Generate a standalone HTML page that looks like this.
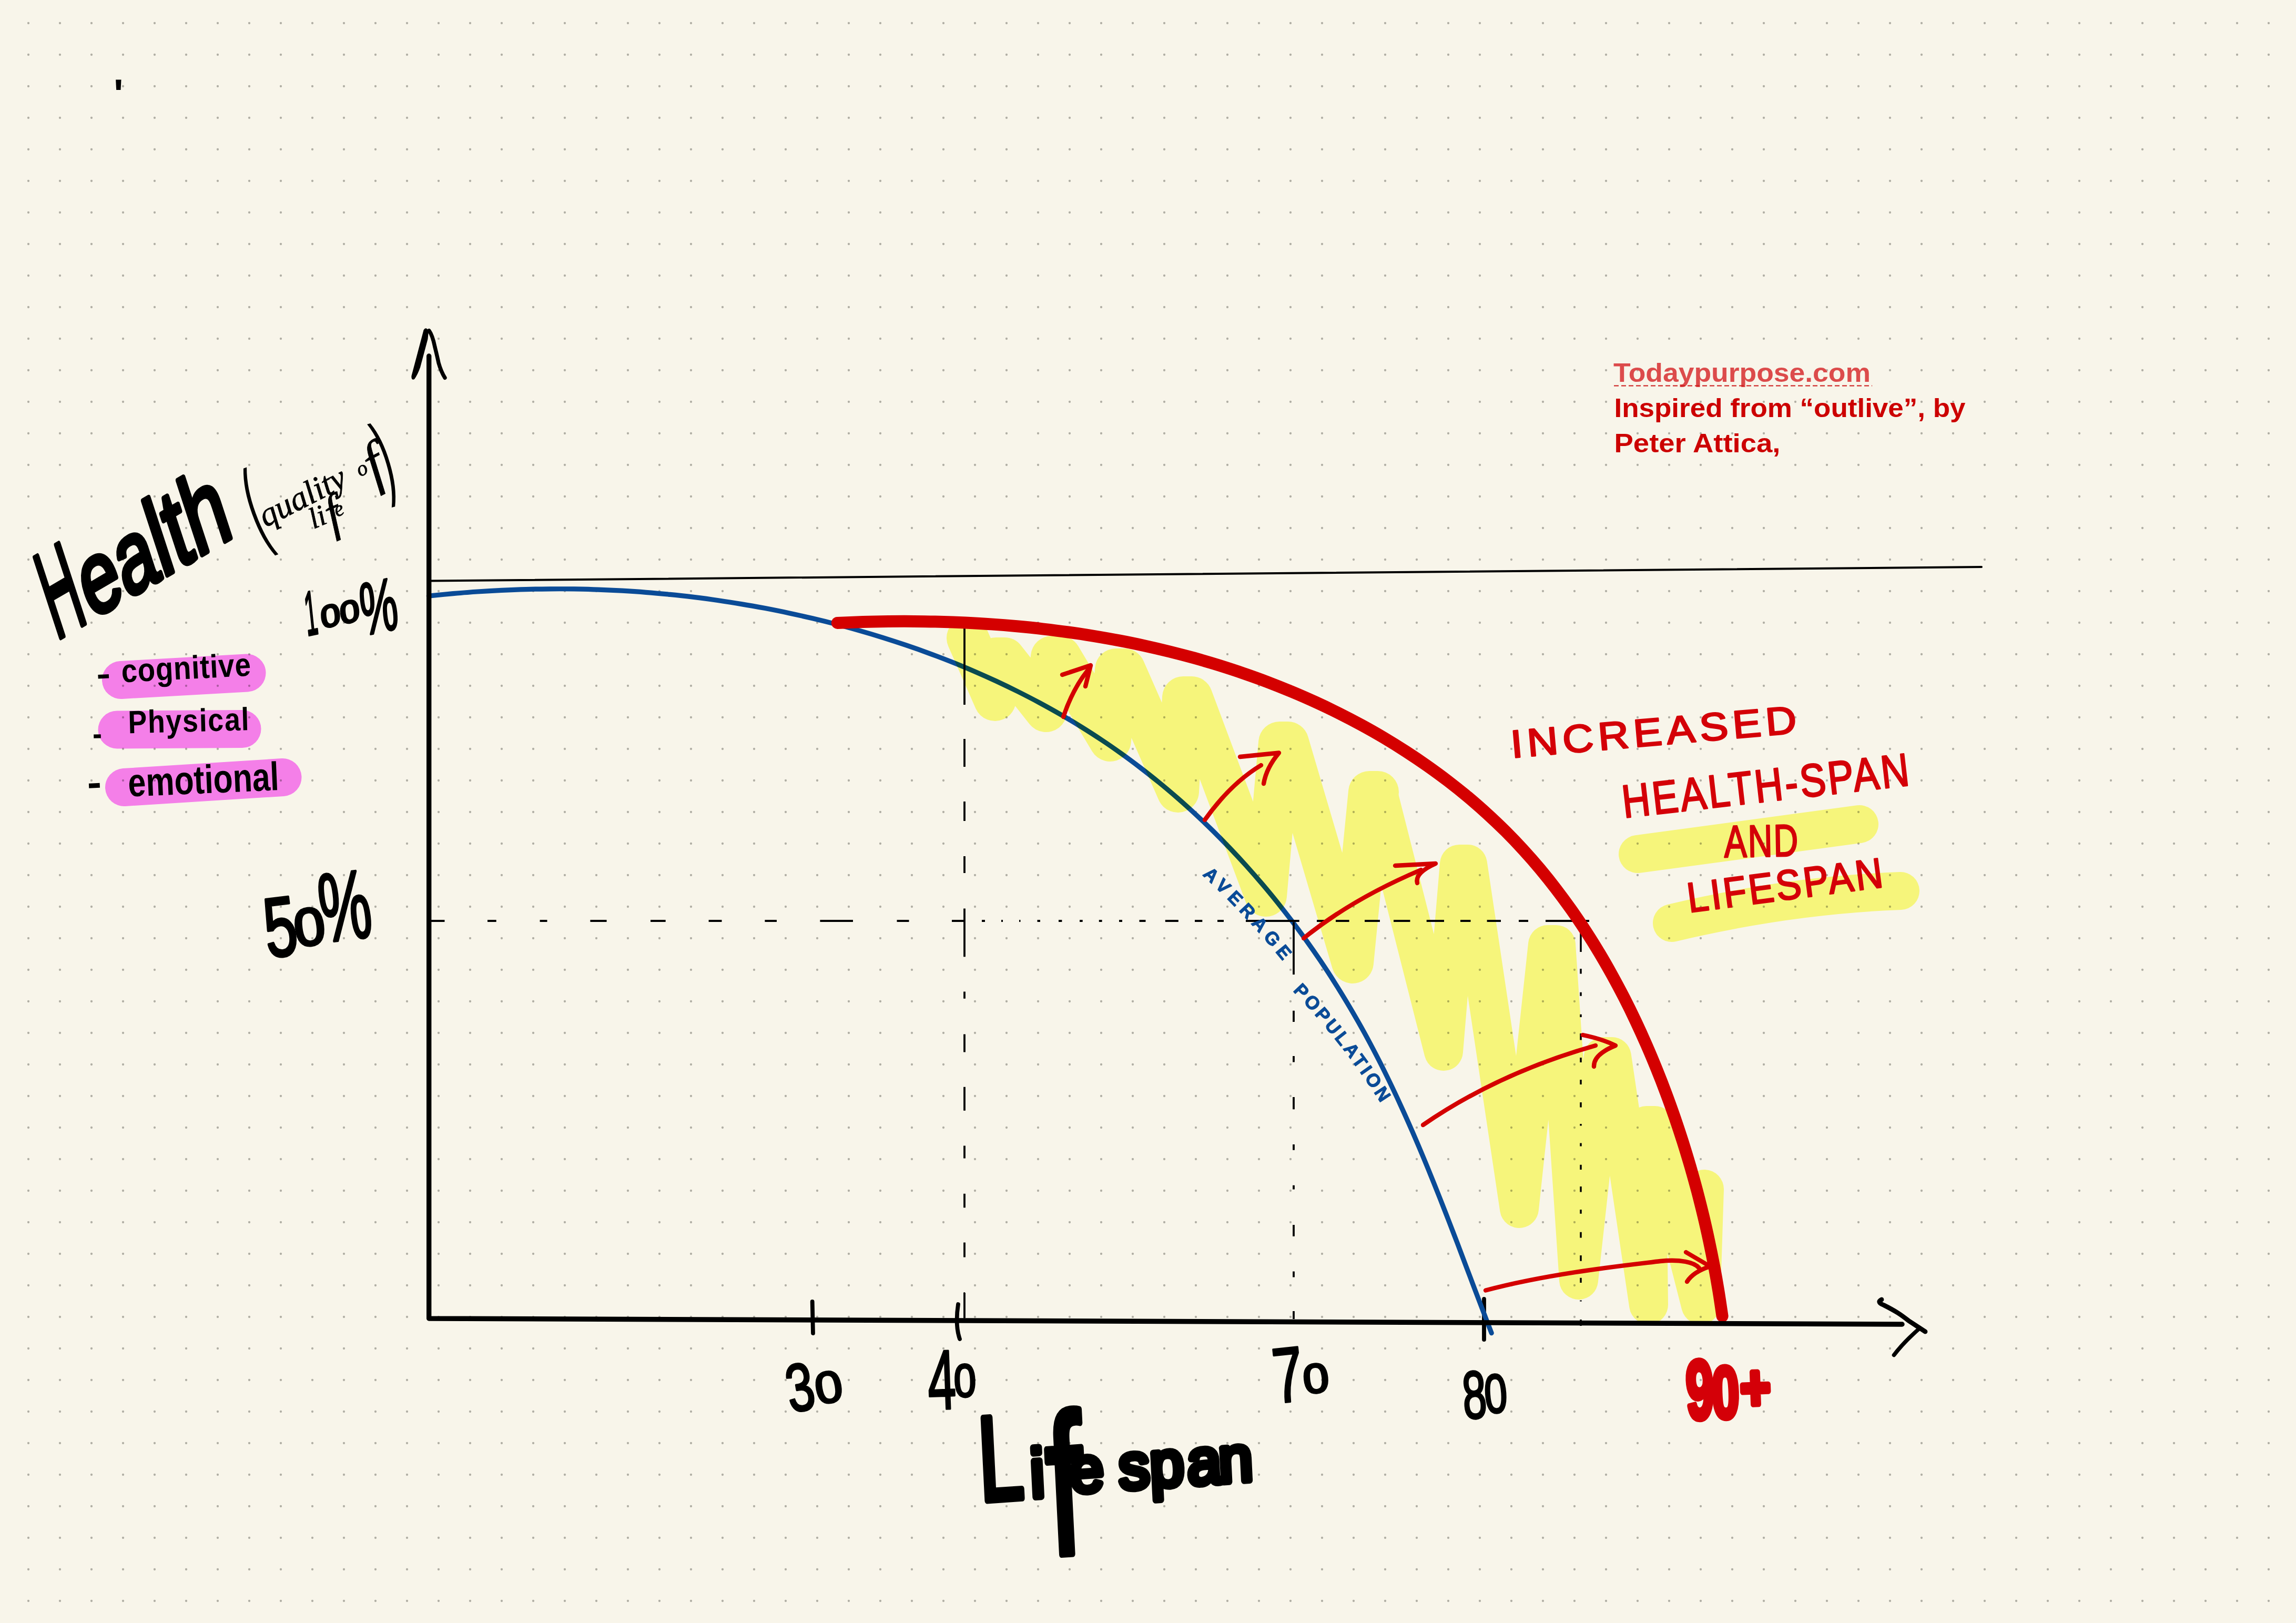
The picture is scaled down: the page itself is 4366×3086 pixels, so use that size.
<!DOCTYPE html>
<html><head><meta charset="utf-8"><title>Health vs Lifespan</title>
<style>html,body{margin:0;padding:0;background:#f8f5ea;}svg{display:block}</style>
</head><body>
<svg width="4366" height="3086" viewBox="0 0 4366 3086" font-family="Liberation Sans, sans-serif">
<defs>
<pattern id="dots" x="24" y="14" width="60" height="60" patternUnits="userSpaceOnUse"><circle cx="30" cy="30" r="2.15" fill="#b1afa5"/></pattern>
</defs>
<rect width="4366" height="3086" fill="#f8f5ea"/>
<rect x="24" y="14" width="4320" height="3060" fill="url(#dots)"/>
<!-- pink highlights -->
<g style="mix-blend-mode:multiply" fill="none" stroke="#fb84fd" stroke-width="72" stroke-linecap="round">
<path d="M230,1293 L469.5,1279.5"/>
<path d="M222.5,1387.5 L460.5,1386"/>
<path d="M236,1497 L537.5,1478"/>
</g>
<!-- thin top line -->
<path d="M815,1104.5 L3768,1078" stroke="#000" stroke-width="4" stroke-linecap="round" fill="none"/>
<!-- ticks -->
<g stroke="#000" stroke-width="7.8" stroke-linecap="round" fill="none">
<path d="M1544.7,2475 L1546,2535"/>
<path d="M1822,2480 Q1816,2520 1825,2546"/>
<path d="M2822,2470 V2547"/>
</g>
<!-- blue curve -->
<path id="bluec" d="M815.3,1133.2 C823.0,1132.4 846.1,1130.0 861.5,1128.6 C876.9,1127.3 892.3,1126.0 907.7,1125.0 C923.1,1123.9 938.4,1123.0 953.8,1122.3 C969.1,1121.6 984.4,1121.0 999.8,1120.6 C1015.1,1120.1 1030.4,1119.9 1045.7,1119.8 C1061.0,1119.7 1076.2,1119.7 1091.5,1119.9 C1106.8,1120.2 1122.0,1120.5 1137.3,1121.1 C1152.5,1121.6 1167.7,1122.3 1182.9,1123.2 C1198.1,1124.1 1213.3,1125.1 1228.5,1126.3 C1243.7,1127.5 1258.8,1128.9 1274.0,1130.4 C1289.1,1131.9 1304.3,1133.6 1319.4,1135.4 C1334.5,1137.3 1349.6,1139.3 1364.7,1141.5 C1379.8,1143.7 1394.9,1146.0 1409.9,1148.6 C1425.0,1151.1 1440.0,1153.8 1455.1,1156.6 C1470.1,1159.5 1485.1,1162.5 1500.1,1165.7 C1515.1,1168.9 1530.1,1172.3 1545.1,1175.8 C1560.0,1179.3 1575.0,1183.0 1589.8,1186.9 C1604.7,1190.8 1619.6,1194.9 1634.4,1199.1 C1649.2,1203.3 1664.0,1207.7 1678.7,1212.3 C1693.4,1216.9 1708.1,1221.7 1722.7,1226.7 C1737.3,1231.6 1751.8,1236.7 1766.3,1242.1 C1780.8,1247.4 1795.1,1252.9 1809.4,1258.6 C1823.8,1264.3 1838.0,1270.2 1852.1,1276.2 C1866.2,1282.3 1880.3,1288.6 1894.2,1295.0 C1908.1,1301.5 1922.0,1308.2 1935.7,1315.0 C1949.4,1321.9 1963.1,1328.9 1976.5,1336.1 C1990.0,1343.4 2003.4,1350.8 2016.7,1358.5 C2029.9,1366.1 2043.0,1374.0 2056.0,1382.0 C2069.0,1390.1 2081.8,1398.3 2094.5,1406.8 C2107.2,1415.2 2119.7,1423.9 2132.1,1432.8 C2144.5,1441.6 2156.7,1450.7 2168.8,1460.0 C2180.9,1469.2 2192.8,1478.7 2204.6,1488.3 C2216.4,1497.9 2228.0,1507.8 2239.5,1517.8 C2251.0,1527.8 2262.3,1538.0 2273.5,1548.3 C2284.6,1558.7 2295.6,1569.2 2306.5,1579.9 C2317.3,1590.6 2328.0,1601.5 2338.6,1612.5 C2349.1,1623.5 2359.5,1634.7 2369.7,1646.0 C2379.9,1657.4 2390.0,1668.9 2399.9,1680.5 C2409.8,1692.1 2419.5,1703.9 2429.1,1715.8 C2438.6,1727.8 2448.0,1739.8 2457.3,1752.0 C2466.5,1764.2 2475.6,1776.5 2484.5,1789.0 C2493.4,1801.4 2502.2,1814.0 2510.8,1826.7 C2519.3,1839.4 2527.8,1852.2 2536.0,1865.2 C2544.2,1878.1 2552.3,1891.1 2560.2,1904.3 C2568.1,1917.4 2575.9,1930.7 2583.4,1944.1 C2591.0,1957.4 2598.4,1970.9 2605.6,1984.4 C2612.8,1998.0 2619.9,2011.6 2626.8,2025.3 C2633.7,2039.0 2640.4,2052.8 2647.1,2066.7 C2653.7,2080.5 2660.2,2094.5 2666.5,2108.5 C2672.9,2122.5 2679.1,2136.5 2685.3,2150.6 C2691.4,2164.7 2697.5,2178.8 2703.4,2193.0 C2709.4,2207.2 2715.2,2221.4 2721.0,2235.7 C2726.8,2249.9 2732.5,2264.2 2738.1,2278.4 C2743.8,2292.7 2749.3,2307.0 2754.9,2321.3 C2760.4,2335.6 2765.9,2349.9 2771.4,2364.2 C2776.8,2378.5 2782.2,2392.8 2787.6,2407.1 C2793.0,2421.3 2798.4,2435.6 2803.8,2449.8 C2809.2,2464.0 2814.6,2478.2 2820.0,2492.4 C2825.4,2506.5 2833.5,2527.7 2836.2,2534.7" stroke="#0a4b97" stroke-width="9.2" stroke-linecap="round" fill="none"/>
<!-- dashed lines -->
<g stroke="#000" stroke-width="3.8" fill="none">
<path d="M819,1751 H845.5 M927,1751 H943.7 M1026.6,1751 H1040.5 M1122.4,1751 H1153.6 M1237,1751 H1265.7 M1347.6,1751 H1372.5 M1454.4,1751 H1477 M1559.4,1751 H1622 M1705.5,1751 H1728.5 M1810,1751 H1834 M1867,1751 H1873 M1904,1751 H1907 M1938,1751 H1940.5 M1972.5,1751 H1978 M2013,1751 H2019.4 M2053,1751 H2058.7 M2089.8,1751 H2095.6 M2128,1751 H2134 M2166.5,1751 H2178.5 M2215.8,1751 H2240.8 M2272,1751 H2286.3 M2315,1751 H2327 M2369,1751 H2470.7 M2504,1751 H2521 M2540,1751 H2565.6 M2595,1751 H2624 M2650,1751 H2681.5 M2712.7,1751 H2746 M2777,1751 H2796.5 M2827.6,1751 H2854 M2888,1751 H2906 M2939,1751 H3022"/>
<path d="M1834,1174 V1340 M1834,1405 V1458 M1834,1524 V1561 M1834,1628 V1660 M1834,1727.6 V1819.3 M1834,1885.5 V1898.8 M1834,1966.6 V2000.5 M1834,2066.8 V2111.8 M1834,2178.6 V2202.5 M1834,2269.8 V2296.3 M1834,2362.5 V2390.6 M1834,2458 V2506"/>
<path d="M2460,1753.5 V1853 M2460,1921.7 V1943 M2460,2008 V2019.6 M2460,2086 V2109.3 M2460,2176 V2186.8 M2460,2253.7 V2261.5 M2460,2329 V2350.8 M2460,2417.6 V2428.4 M2460,2493 V2508"/>
<path d="M3006,1750 V1810 M3006,1842 V1851.6 M3006,1886.7 V1893.7 M3006,1928.8 V1934 M3006,1965 V1977.6 M3006,2011 V2020 M3006,2053 V2062 M3006,2096 V2105.5 M3006,2137 V2140.5 M3006,2173.5 V2179.6 M3006,2214.7 V2223.9 M3006,2255.9 V2266.6 M3006,2300 V2307.7 M3006,2342.8 V2353.5 M3006,2387 V2397.7 M3006,2429.7 V2438.9 M3006,2472.4 V2474.5 M3006,2509 V2521" stroke-width="3.5"/>
<path d="M1833.6,2457 V2508" stroke-width="2"/>
</g>
<!-- yellow -->
<g style="mix-blend-mode:multiply" fill="none" stroke="#fdff86" stroke-linecap="round" stroke-linejoin="round">
<path d="M1840,1213 L1892,1331 L1894,1252 L1910,1252 L1989,1352 L2000,1249 L2016,1249 L2111,1408 L2122,1273 L2138,1273 L2240,1505 L2250,1326 L2266,1326 L2407,1703 L2433,1412 L2449,1412 L2572,1830 L2604,1506 L2620,1506" stroke-width="80"/>
<path d="M2620,1506 L2745,1999 L2775,1643 L2791,1643 L2889,2298 L2943,1796 L2959,1796 L3002,2434 L3049,2009 L3065,2009 L3135,2481 L3131,2140 L3147,2140 L3234,2481 L3241,2261" stroke-width="74"/>
<path d="M3114,1624 L3536,1567" stroke-width="72"/>
<path d="M3179,1755 Q3400,1702 3614,1694" stroke-width="72"/>
</g>
<!-- red curve -->
<path d="M1592.3,1184.4 C1600.4,1184.1 1624.6,1183.0 1640.8,1182.5 C1657.0,1182.0 1673.2,1181.7 1689.4,1181.5 C1705.7,1181.3 1721.9,1181.2 1738.2,1181.4 C1754.5,1181.5 1770.8,1181.8 1787.1,1182.2 C1803.3,1182.6 1819.7,1183.2 1836.0,1184.0 C1852.3,1184.8 1868.6,1185.7 1884.9,1186.9 C1901.2,1188.0 1917.5,1189.3 1933.7,1190.8 C1950.0,1192.3 1966.3,1193.9 1982.5,1195.8 C1998.8,1197.7 2015.0,1199.7 2031.2,1202.0 C2047.4,1204.2 2063.6,1206.7 2079.7,1209.3 C2095.8,1212.0 2111.9,1214.8 2128.0,1217.9 C2144.0,1220.9 2160.0,1224.2 2176.0,1227.7 C2191.9,1231.2 2207.8,1234.9 2223.7,1238.8 C2239.5,1242.7 2255.3,1246.8 2271.1,1251.2 C2286.8,1255.6 2302.4,1260.2 2318.0,1265.0 C2333.6,1269.9 2349.1,1274.9 2364.6,1280.3 C2380.0,1285.6 2395.4,1291.1 2410.7,1296.9 C2425.9,1302.7 2441.1,1308.8 2456.2,1315.1 C2471.3,1321.4 2486.3,1327.9 2501.2,1334.8 C2516.1,1341.6 2530.9,1348.6 2545.5,1356.0 C2560.1,1363.3 2574.7,1370.9 2589.0,1378.7 C2603.4,1386.5 2617.6,1394.6 2631.7,1402.9 C2645.7,1411.3 2659.6,1419.9 2673.3,1428.7 C2687.1,1437.6 2700.6,1446.7 2713.9,1456.1 C2727.2,1465.5 2740.4,1475.1 2753.3,1485.0 C2766.2,1494.9 2778.9,1505.0 2791.4,1515.4 C2803.8,1525.8 2816.1,1536.5 2828.0,1547.4 C2840.0,1558.3 2851.7,1569.5 2863.2,1580.9 C2874.6,1592.3 2885.8,1604.0 2896.7,1616.0 C2907.6,1627.9 2918.3,1640.1 2928.7,1652.5 C2939.0,1664.9 2949.2,1677.6 2959.0,1690.4 C2968.9,1703.3 2978.5,1716.4 2987.9,1729.7 C2997.2,1742.9 3006.3,1756.4 3015.2,1770.0 C3024.1,1783.7 3032.7,1797.5 3041.1,1811.5 C3049.5,1825.5 3057.6,1839.7 3065.5,1854.0 C3073.4,1868.3 3081.1,1882.8 3088.6,1897.3 C3096.1,1911.9 3103.3,1926.6 3110.3,1941.5 C3117.3,1956.3 3124.1,1971.3 3130.7,1986.3 C3137.3,2001.4 3143.7,2016.5 3149.8,2031.8 C3156.0,2047.0 3162.0,2062.3 3167.7,2077.7 C3173.5,2093.1 3179.0,2108.5 3184.4,2124.0 C3189.7,2139.5 3194.9,2155.1 3199.9,2170.7 C3204.8,2186.3 3209.6,2202.0 3214.2,2217.7 C3218.7,2233.4 3223.1,2249.1 3227.3,2264.9 C3231.4,2280.7 3235.4,2296.5 3239.2,2312.3 C3243.0,2328.1 3246.5,2344.0 3249.9,2359.8 C3253.3,2375.7 3256.5,2391.6 3259.5,2407.4 C3262.5,2423.3 3265.3,2439.2 3267.9,2455.0 C3270.5,2470.9 3273.9,2494.7 3275.1,2502.6" stroke="#d40000" stroke-width="23" stroke-linecap="round" fill="none"/>
<!-- red arrows -->
<g stroke="#d40000" stroke-width="8.4" stroke-linecap="round" stroke-linejoin="round" fill="none">
<path d="M2022,1363 Q2040,1310 2068,1275"/><path d="M2020,1283 L2074,1265 L2064,1305"/>
<path d="M2291,1559 Q2340,1490 2398,1455"/><path d="M2358,1439 L2432,1431.5 Q2408,1460 2403,1490"/>
<path d="M2479,1784 Q2570,1710 2702,1654"/><path d="M2653,1646 L2730,1642 Q2690,1660 2695,1679"/>
<path d="M2706,2139 Q2850,2040 3034,1988"/><path d="M3010,1968 Q3045,1975 3072,1988 Q3030,2005 3031,2028"/>
<path d="M2825,2453.5 C2950,2420 3100,2405 3157,2398 C3195,2394 3222,2400 3231,2411"/><path d="M3206,2381 L3252,2408 Q3220,2418 3208,2437"/>
</g>
<!-- axes -->
<path d="M815.7,677 V2507 L3617,2518" stroke="#000" stroke-width="9.4" stroke-linecap="round" stroke-linejoin="round" fill="none"/>
<path d="M805.6,627.6 Q810,620 815,629.6 L813.4,645 L799.1,698.6 Q794,713 788,721 Q782,724 782.4,715 Z" fill="#000"/>
<path d="M815.9,628.6 C822,637 825,650 826.8,659 C830,672 832,680 834,690 C838,704 842,712 846,718.3" stroke="#000" stroke-width="7.4" stroke-linecap="round" fill="none"/>
<path d="M3578,2471 Q3568,2476 3582,2481.5 C3605,2493 3615,2500 3628.8,2510.8 L3661,2532" stroke="#000" stroke-width="8.8" stroke-linecap="round" stroke-linejoin="round" fill="none"/>
<path d="M3651,2525 Q3620,2552 3601.5,2576.5" stroke="#000" stroke-width="7.6" stroke-linecap="round" fill="none"/>
<text id="apos" x="216" y="205" font-size="78" font-weight="700" fill="#000">&#39;</text>
<text id="health" transform="matrix(0.64,-0.375,0.31,0.95,107,1217)" fill="#000" stroke="#000" stroke-width="10" stroke-linejoin="round" stroke-linecap="round"><tspan font-size="232" textLength="98" lengthAdjust="spacingAndGlyphs">H</tspan><tspan font-size="190" dx="6">ea</tspan><tspan font-size="205">lth</tspan></text>
<text id="q0" fill="#000" font-size="30" transform="translate(492,1026) rotate(-20) scale(2.6,6.3)">(</text>
<text id="q1" font-family="Liberation Serif, serif" font-style="italic" fill="#000" stroke="#000" stroke-width="0.8" transform="translate(505,1003) rotate(-27)"><tspan font-size="64">quality </tspan><tspan font-size="40" dx="10" dy="-4">o</tspan><tspan font-size="112" dy="26" dx="-2">f</tspan></text>
<text id="q2" font-family="Liberation Serif, serif" font-style="italic" fill="#000" stroke="#000" stroke-width="0.8" transform="translate(596,1006) rotate(-22.5)"><tspan font-size="56">li</tspan><tspan font-size="96" dy="18">f</tspan><tspan font-size="40" dy="-22" dx="-8">e</tspan></text>
<text id="q3" fill="#000" font-size="30" transform="translate(734,930) rotate(-16.5) scale(2.6,5.9)">)</text>
<text id="pct100" transform="translate(584,1209) rotate(-12) skewX(-6) scale(0.78,1)" fill="#000" stroke="#000" stroke-width="4" stroke-linejoin="round" font-size="118"><tspan textLength="30" lengthAdjust="spacingAndGlyphs">1</tspan><tspan font-size="58" textLength="96" lengthAdjust="spacingAndGlyphs" dx="8" dy="-8">00</tspan><tspan font-size="140" textLength="92" lengthAdjust="spacingAndGlyphs" dy="30" dx="2">%</tspan></text>
<text id="cog" transform="translate(184,1300) rotate(-3) scale(0.88,1)" font-size="62" font-weight="700" fill="#000" letter-spacing="1"><tspan dy="3" textLength="32" lengthAdjust="spacingAndGlyphs">-</tspan><tspan dx="4" dy="-3"> cognitive</tspan></text>
<text id="phy" transform="translate(176,1396) rotate(-1.5) scale(0.88,1)" font-size="61" font-weight="700" fill="#000" letter-spacing="2"><tspan dy="20">-</tspan><tspan dx="36" dy="-20"> Physical</tspan></text>
<text id="emo" transform="translate(167,1518) rotate(-2.5) scale(0.8,1)" font-size="76" font-weight="700" fill="#000"><tspan textLength="34" lengthAdjust="spacingAndGlyphs" dy="-4">-</tspan><tspan dx="42" dy="4"> emotional</tspan></text>
<text id="pct50" transform="translate(509,1821) rotate(-7) scale(0.7,1)" fill="#000" stroke="#000" stroke-width="5" stroke-linejoin="round" font-size="160"><tspan>5</tspan><tspan font-size="100" dx="-8" dy="-14" textLength="84" lengthAdjust="spacingAndGlyphs">0</tspan><tspan font-size="185" dx="-10" dy="-2" textLength="140" lengthAdjust="spacingAndGlyphs">%</tspan></text>
<text id="n30" transform="translate(1503,2686) rotate(-10) scale(0.74,1)" fill="#000" stroke="#000" stroke-width="4" stroke-linejoin="round" font-size="128" font-weight="400"><tspan>3</tspan><tspan font-size="84" dy="-6" dx="2" textLength="70" lengthAdjust="spacingAndGlyphs">0</tspan></text>
<text id="n40" transform="translate(1766,2680) rotate(-2) scale(0.6,1)" fill="#000" stroke="#000" stroke-width="4" stroke-linejoin="round" font-size="160" font-weight="400"><tspan>4</tspan><tspan font-size="88" dy="-22" dx="-6" textLength="70" lengthAdjust="spacingAndGlyphs">0</tspan></text>
<text id="n70" transform="translate(2426,2668) rotate(-6) scale(0.7,1)" fill="#000" stroke="#000" stroke-width="4" stroke-linejoin="round" font-size="148" font-weight="400"><tspan>7</tspan><tspan font-size="78" dy="-12" dx="-2" textLength="70" lengthAdjust="spacingAndGlyphs">0</tspan></text>
<text id="n80" transform="translate(2784,2698) rotate(-4) scale(0.64,1)" fill="#000" stroke="#000" stroke-width="4" stroke-linejoin="round" font-size="128" font-weight="400"><tspan>8</tspan><tspan font-size="104" dy="-8" dx="-6" textLength="68" lengthAdjust="spacingAndGlyphs">0</tspan></text>
<text id="n90" transform="translate(3208,2698) rotate(-2) scale(0.6,1)" fill="#d40008" stroke="#d40008" stroke-width="11" stroke-linejoin="round" font-size="158" font-weight="700"><tspan>9</tspan><tspan font-size="138" dx="-6" textLength="86" lengthAdjust="spacingAndGlyphs">0</tspan><tspan font-size="120" dy="-14" dx="4" textLength="96" lengthAdjust="spacingAndGlyphs">+</tspan></text>
<text id="life" transform="matrix(0.95,-0.065,0.05,1,1864,2854)" fill="#000" stroke="#000" stroke-width="12.5" stroke-linejoin="round"><tspan font-size="228" textLength="90" lengthAdjust="spacingAndGlyphs">L</tspan><tspan font-size="130" dx="12">i</tspan><tspan font-size="380" dy="112" dx="2" textLength="74" lengthAdjust="spacingAndGlyphs">f</tspan><tspan font-size="122" dy="-116" dx="-26 24 -6 0 -12" letter-spacing="7">espan</tspan></text>
<text id="incr" transform="translate(2875,1441) rotate(-5) scale(1.1,1)" fill="#d40008" stroke="#d40008" stroke-width="2.8" stroke-linejoin="round" font-size="74" letter-spacing="8">INCREASED</text>
<text id="hspan" transform="translate(3088,1555) rotate(-6.5) scale(0.84,1)" fill="#d40008" stroke="#d40008" stroke-width="2.8" stroke-linejoin="round" font-size="88" letter-spacing="5">HEALTH-SPAN</text>
<text id="and" transform="translate(3279,1630) rotate(-1) scale(0.75,1)" fill="#d40008" stroke="#d40008" stroke-width="2.8" stroke-linejoin="round" font-size="86" letter-spacing="3">AND</text>
<text id="lspan" transform="translate(3212,1735) rotate(-7.5) scale(0.9,1)" fill="#d40008" stroke="#d40008" stroke-width="2.8" stroke-linejoin="round" font-size="80" letter-spacing="5">LIFESPAN</text>
<text id="t1" x="3068" y="726" font-size="50.6" font-weight="700" fill="#dc4b4b" textLength="489" lengthAdjust="spacingAndGlyphs">Todaypurpose.com</text>
<path d="M3069,733.5 H3560" stroke="#cc1a1a" stroke-width="2.2" stroke-dasharray="9 5" fill="none"/>
<text id="t2" x="3069.5" y="793" font-size="50.6" font-weight="700" fill="#cc0000" textLength="668" lengthAdjust="spacingAndGlyphs">Inspired from “outlive”, by</text>
<text id="t3" x="3069.5" y="860" font-size="50.6" font-weight="700" fill="#cc0000" textLength="316" lengthAdjust="spacingAndGlyphs">Peter Attica,</text>
<path id="lblA" d="M2286,1664 Q2370,1740 2452,1843" fill="none"/><path id="lblP" d="M2458,1884 Q2560,1990 2640,2120" fill="none"/>
<text id="avg" font-size="35" font-weight="700" fill="#0a4b97" stroke="#0a4b97" stroke-width="1.2" stroke-linejoin="round" letter-spacing="9"><textPath href="#lblA">AVERAGE</textPath></text>
<text id="pop" font-size="35" font-weight="700" fill="#0a4b97" stroke="#0a4b97" stroke-width="1.2" stroke-linejoin="round" letter-spacing="5"><textPath href="#lblP">POPULATION</textPath></text>
</svg>
</body></html>
